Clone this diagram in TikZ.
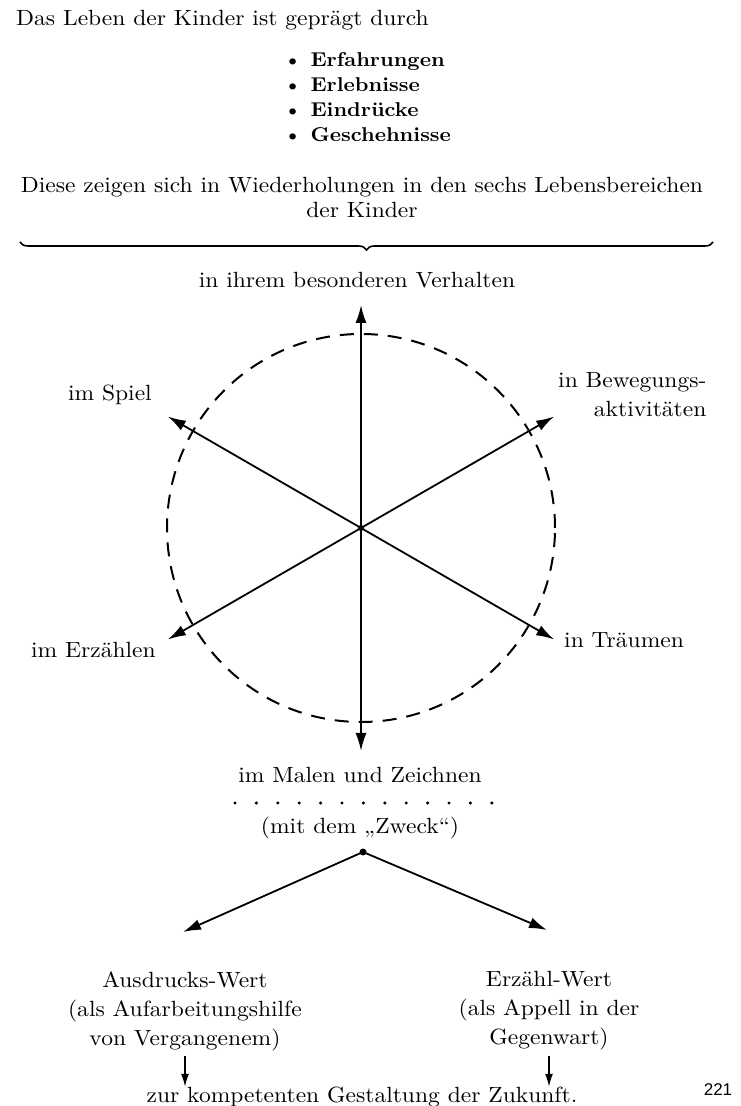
\documentclass[tikz,border=0pt]{standalone}
\usepackage{fontspec}
\setmainfont{lmroman10-regular.otf}[BoldFont=lmroman10-bold.otf, FakeStretch=1.07]
\newfontfamily\pagefont{Liberation Sans}
\usetikzlibrary{arrows.meta,positioning,calc,decorations.pathreplacing}
\tikzset{
  txt/.style={
    font=\fontsize{22}{25}\selectfont,
    align=center,
    inner sep=0pt
  },
  items/.style={
    font=\bfseries\fontsize{20}{25}\selectfont,
    align=left,
    anchor=west,
    inner sep=0pt
  },
  area/.style={
    font=\fontsize{22}{29}\selectfont,
    align=center,
    inner sep=0pt
  },
  arrow/.style={
    -{Latex[length=18pt,width=11pt]},
    line width=1.8pt
  },
  down/.style={
    -{Latex[length=13pt,width=8pt]},
    line width=1.5pt
  },
  ring/.style={
    dash pattern=on 14pt off 10pt,
    line width=2pt
  }
}

\begin{document}
\begin{tikzpicture}[x=1pt,y=1pt]
  \useasboundingbox (0,0) rectangle (741,1106);

  % header
  \node[txt, anchor=west] (intro) at (16,1086) {Das Leben der Kinder ist geprägt durch};
  \node[items] (list) at (283,1009)
    {\textbullet\ Erfahrungen\\ \textbullet\ Erlebnisse\\ \textbullet\ Eindrücke\\ \textbullet\ Geschehnisse};
  \node[txt] (six) at (362,909)
    {Diese zeigen sich in Wiederholungen in den sechs Lebensbereichen\\der Kinder};

  \coordinate (braceL) at (20,864);
  \coordinate (braceR) at (713,864);
  \draw[line width=1.6pt, decorate, decoration={brace, mirror, amplitude=8pt}] (braceL) -- (braceR);

  % the six areas
  \coordinate (hub) at (361,578);
  \draw[ring] (hub) circle (194);

  \node[area] (verhalten) at (357,826) {in ihrem besonderen Verhalten};
  \node[area, anchor=east] (spiel) at (152,711) {im Spiel};
  \node[area, anchor=west, align=right] (bewegung) at (558,711) {in Bewegungs-\\aktivitäten};
  \node[area, anchor=east] (erzaehlen) at (156,456) {im Erzählen};
  \node[area, anchor=west] (traeume) at (564,466) {in Träumen};
  \node[area] (malen) at (360,331) {im Malen und Zeichnen};

  \foreach \ang/\tip in {90/tipN,30/tipNE,330/tipSE,270/tipS,210/tipSW,150/tipNW}
    \coordinate (\tip) at ($(hub)+(\ang:223)$);

  \draw[arrow] (hub) -- (tipN);
  \draw[arrow] (hub) -- (tipNE);
  \draw[arrow] (hub) -- (tipSE);
  \draw[arrow] (hub) -- (tipS);
  \draw[arrow] (hub) -- (tipSW);
  \draw[arrow] (hub) -- (tipNW);
  \fill (hub) circle (3pt);

  % purpose
  \foreach \i in {0,...,12}
    \fill (235+\i*21.4,303) circle (1.7pt);
  \node[area] (zweck) at (360,278) {(mit dem „Zweck“)};

  \coordinate (fork) at (363,254);
  \coordinate (tipL) at (183,174);
  \coordinate (tipR) at (547,176);
  \fill (fork) circle (3.5pt);
  \draw[arrow] (fork) -- (tipL);
  \draw[arrow] (fork) -- (tipR);

  \node[area] (ausdruck) at (185,95) {Ausdrucks-Wert\\(als Aufarbeitungshilfe\\von Vergangenem)};
  \node[area] (erzaehlwert) at (549,95) {Erzähl-Wert\\(als Appell in der\\Gegenwart)};
  \node[area] (zukunft) at (362,9) {zur kompetenten Gestaltung der Zukunft.};

  \draw[down] ([yshift=-5pt]ausdruck.south) -- (ausdruck.south |- zukunft.north);
  \draw[down] ([yshift=-5pt]erzaehlwert.south) -- (erzaehlwert.south |- zukunft.north);

  \node[font=\pagefont\fontsize{17}{17}\selectfont] (page) at (718,16) {221};
\end{tikzpicture}
\end{document}
